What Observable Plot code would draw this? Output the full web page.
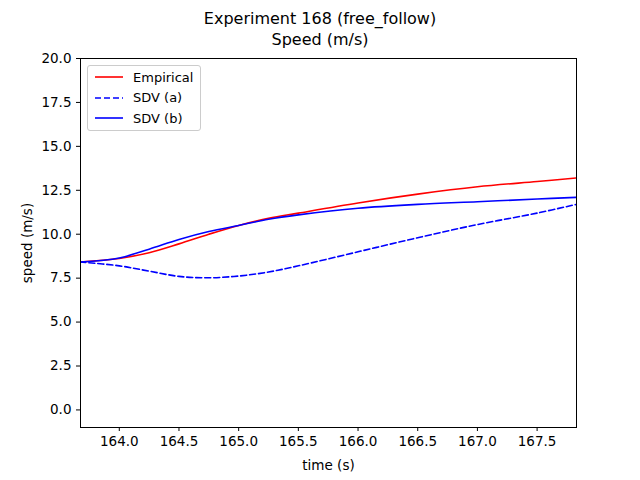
<!DOCTYPE html>
<html>
<head>
<meta charset="utf-8">
<script src="https://cdn.jsdelivr.net/npm/d3@7"></script>
<script src="https://cdn.jsdelivr.net/npm/@observablehq/plot@0.6"></script>
<style>
body { margin: 0; font-family: "DejaVu Sans", sans-serif; }
#wrap { position: relative; width: 640px; height: 480px; }
#title { position: absolute; top: 8px; left: 0; width: 640px; text-align: center; font-size: 16px; line-height: 21px; }
#legend { position: absolute; left: 87px; top: 65px; width: 112px; border: 1px solid #ccc; border-radius: 3px; background: #fff; font-size: 13px; padding: 1px 0; }
.item { display: flex; align-items: center; height: 20.5px; }
.item svg { margin: 0 10px 0 7px; }
</style>
</head>
<body>
<div id="wrap">
<div id="chart"></div>
<div id="title">Experiment 168 (free_follow)<br>Speed (m/s)</div>
<div id="legend"></div>
</div>
<script>
let time_s = [163.67, 164.0, 164.25, 164.5, 164.75, 165.0, 165.25, 165.5, 166.0, 166.5, 167.0, 167.5, 167.83];
let empirical = [8.42, 8.62, 8.95, 9.45, 10.0, 10.5, 10.9, 11.2, 11.78, 12.28, 12.7, 13.0, 13.2];
let sdv_a = [8.42, 8.2, 7.9, 7.6, 7.52, 7.62, 7.85, 8.2, 9.0, 9.8, 10.55, 11.2, 11.7];
let sdv_b = [8.42, 8.65, 9.15, 9.7, 10.15, 10.5, 10.85, 11.1, 11.48, 11.7, 11.85, 12.0, 12.1];

let series = [
  {name: "Empirical", values: empirical, stroke: "red", dash: null},
  {name: "SDV (a)", values: sdv_a, stroke: "blue", dash: "6,3"},
  {name: "SDV (b)", values: sdv_b, stroke: "blue", dash: null}
];

let plot = Plot.plot({
  width: 640,
  height: 480,
  marginLeft: 80,
  marginRight: 64,
  marginTop: 58,
  marginBottom: 53,
  style: {fontFamily: "DejaVu Sans, sans-serif", fontSize: "12.5px", color: "black"},
  x: {domain: [163.675, 167.83], ticks: d3.range(164, 167.51, 0.5), tickFormat: d3.format(".1f"),
      label: "time (s)", labelAnchor: "center", labelArrow: "none", labelOffset: 42, tickSize: 4},
  y: {domain: [-1, 20], ticks: d3.range(0, 20.1, 2.5), tickFormat: d3.format(".1f"),
      label: "speed (m/s)", labelAnchor: "center", labelArrow: "none", labelOffset: 58, tickSize: 4},
  marks: [
    ...series.map(s => Plot.line(time_s.map((t, i) => ({t, v: s.values[i]})),
      {x: "t", y: "v", stroke: s.stroke, strokeWidth: 1.6, strokeDasharray: s.dash, curve: "catmull-rom", clip: true})),
    Plot.frame({stroke: "black"})
  ]
});
plot.style.fontSize = "13.5px";
document.getElementById("chart").append(plot);

let lg = d3.select("#legend");
series.forEach(s => {
  let it = lg.append("div").attr("class", "item");
  it.append("svg").attr("width", 28).attr("height", 10)
    .append("line").attr("x1", 0).attr("x2", 28).attr("y1", 5).attr("y2", 5)
    .attr("stroke", s.stroke).attr("stroke-width", 1.6).attr("stroke-dasharray", s.dash);
  it.append("span").text(s.name);
});
</script>
</body>
</html>
